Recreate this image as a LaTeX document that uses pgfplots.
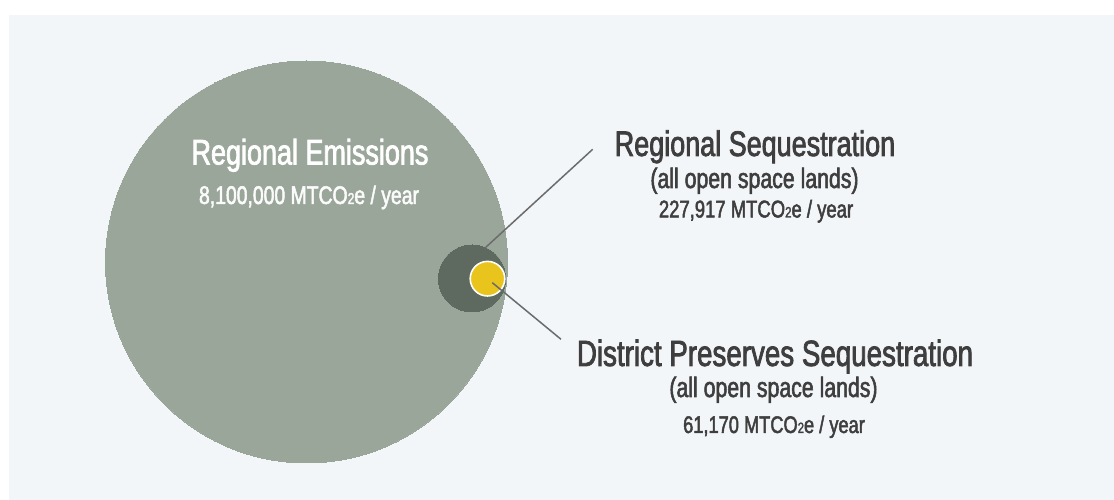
\documentclass[border=0pt]{standalone}
\usepackage{pgfplots}
\pgfplotsset{compat=1.18}
\usepackage{fontspec}
\setmainfont{Liberation Sans}[FakeStretch=0.76, FakeBold=2]
\definecolor{bgc}{HTML}{F3F6F9}
\definecolor{bigc}{HTML}{9BA69B}
\definecolor{darkc}{HTML}{5E695F}
\definecolor{yelc}{HTML}{E9C41C}
\definecolor{txtc}{HTML}{3E3E3E}
\definecolor{linec}{HTML}{6B6B6B}
\newcommand{\two}{\scalebox{0.62}{2}}
\newcommand{\fs}[1]{\fontsize{#1bp}{#1bp}\selectfont}
\begin{document}
\begin{tikzpicture}
\begin{axis}[width=1114bp, height=500bp, scale only axis,
  xmin=0, xmax=1114, ymin=0, ymax=500, y dir=reverse,
  hide axis, clip=false, set layers]
\addplot[draw=none, fill=white] coordinates {(0,0)(1114,0)(1114,500)(0,500)} -- cycle;
\addplot[draw=none, fill=bgc] coordinates {(9,15)(1114,15)(1114,500)(9,500)} -- cycle;
% circles: radius proportional to sqrt(value): 8,100,000 ; 227,917 ; 61,170
\addplot[only marks, mark=*, color=bigc, line width=0pt, mark size=201bp] coordinates {(306.5,262)};
\addplot[only marks, mark=*, color=darkc, line width=0pt, mark size=33.5bp] coordinates {(472,278.5)};
\addplot[only marks, mark=*, mark size=17.3bp, mark options={fill=yelc, draw=white, line width=1.6bp}] coordinates {(487.5,278.7)};
% leader lines
\addplot[linec, line width=1.5bp, on layer=axis foreground] coordinates {(485,248)(592.7,149.3)};
\addplot[linec, line width=1.5bp, on layer=axis foreground] coordinates {(492.3,282.7)(561,339.3)};
% label anchors
\coordinate (t1) at (axis cs:310,164.5);
\coordinate (t2) at (axis cs:309,204);
\coordinate (t3) at (axis cs:755,156);
\coordinate (t4) at (axis cs:754.5,188);
\coordinate (t5) at (axis cs:756,217.5);
\coordinate (t6) at (axis cs:775,366);
\coordinate (t7) at (axis cs:773.5,397);
\coordinate (t8) at (axis cs:774,433);
\end{axis}
\node[anchor=base, text=white, inner sep=0pt] at (t1) {\fs{35.5}Regional Emissions};
\node[anchor=base, text=white!96!bigc, inner sep=0pt] at (t2) {\fs{25.5}8,100,000 MTCO\two e / year};
\node[anchor=base, text=txtc, inner sep=0pt] at (t3) {\fs{35.5}Regional Sequestration};
\node[anchor=base, text=txtc, inner sep=0pt] at (t4) {\fs{28}(all open space lands)};
\node[anchor=base, text=txtc, inner sep=0pt] at (t5) {\fs{24.3}227,917 MTCO\two e / year};
\node[anchor=base, text=txtc, inner sep=0pt] at (t6) {\fs{36.5}District Preserves Sequestration};
\node[anchor=base, text=txtc, inner sep=0pt] at (t7) {\fs{28}(all open space lands)};
\node[anchor=base, text=txtc, inner sep=0pt] at (t8) {\fs{24}61,170 MTCO\two e / year};
\end{tikzpicture}
\end{document}
